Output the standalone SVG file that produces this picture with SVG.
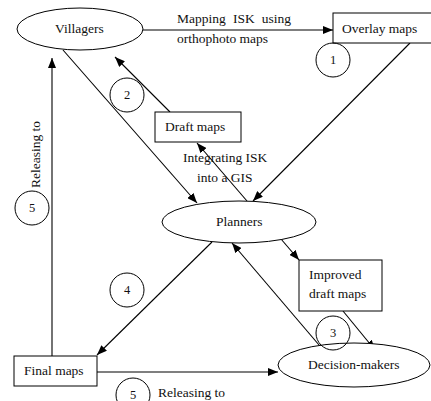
<svg xmlns="http://www.w3.org/2000/svg" width="431" height="401" viewBox="0 0 431 401" font-family="'Liberation Serif', 'Times New Roman', 'DejaVu Serif', serif">
<defs>
<marker id="ah" markerUnits="userSpaceOnUse" markerWidth="10" markerHeight="8" refX="10" refY="4" orient="auto">
<path d="M0,0 L10,4 L0,8 Z" fill="#000"/>
</marker>
<style>
text{font-family:'Liberation Serif','Times New Roman','DejaVu Serif',serif;font-size:13.5px;fill:#111}
.n{font-size:12.5px;text-anchor:middle}
.s{fill:#fff;stroke:#000;stroke-width:1}
.c{stroke:#000;stroke-width:1.1;fill:none;marker-end:url(#ah)}
.k{fill:none;stroke:#000;stroke-width:1}
</style>
</defs>
<rect width="431" height="401" fill="#fff"/>
<g id="connectors">
<line class="c" x1="143" y1="30" x2="333" y2="30"/>
<line class="c" x1="410" y1="43" x2="253" y2="201"/>
<line class="c" x1="63" y1="50" x2="197" y2="203"/>
<line class="c" x1="247" y1="201" x2="197" y2="143"/>
<line class="c" x1="170" y1="112" x2="115" y2="57"/>
<line class="c" x1="281" y1="239" x2="299" y2="260"/>
<line class="c" x1="343" y1="311" x2="375" y2="350"/>
<line class="c" x1="325" y1="352" x2="232" y2="243"/>
<line class="c" x1="212" y1="242" x2="97" y2="355"/>
<line class="c" x1="97" y1="372" x2="278" y2="372"/>
<line class="c" x1="52" y1="356" x2="52" y2="58"/>
<text x="177" y="23" word-spacing="3.8">Mapping ISK using</text>
<text x="177" y="43">orthophoto maps</text>
<text x="183" y="162">Integrating ISK</text>
<text x="197" y="182">into a GIS</text>
<text x="158" y="397">Releasing to</text>
<text transform="translate(40,188) rotate(-90)">Releasing to</text>
</g>
<g id="villagers"><ellipse class="s" cx="80" cy="29" rx="63" ry="21"/><text x="55" y="33">Villagers</text></g>
<g id="overlay"><rect class="s" x="333" y="13" width="100" height="30"/><text x="342" y="33">Overlay maps</text></g>
<g id="draft"><rect class="s" x="155" y="112" width="86" height="30"/><text x="165" y="131">Draft maps</text></g>
<g id="planners"><ellipse class="s" cx="239" cy="222" rx="77" ry="21"/><text x="216" y="226">Planners</text></g>
<g id="improved"><rect class="s" x="299" y="260" width="83" height="51"/><text x="309" y="279">Improved</text><text x="309" y="298">draft maps</text></g>
<g id="decision"><ellipse class="s" cx="354" cy="365" rx="76" ry="22"/><text x="308" y="369">Decision-makers</text></g>
<g id="final"><rect class="s" x="14" y="356" width="83" height="30"/><text x="24" y="375">Final maps</text></g>
<g id="c1"><circle class="k" cx="333" cy="60" r="17"/><text class="n" x="333" y="64">1</text></g>
<g id="c2"><circle class="k" cx="127" cy="95" r="17"/><text class="n" x="127" y="99">2</text></g>
<g id="c3"><circle class="k" cx="333" cy="333" r="17"/><text class="n" x="333" y="337">3</text></g>
<g id="c4"><circle class="k" cx="127" cy="290" r="17"/><text class="n" x="127" y="294">4</text></g>
<g id="c5a"><circle class="k" cx="32" cy="208" r="17"/><text class="n" x="32" y="212">5</text></g>
<g id="c5b"><circle class="k" cx="133" cy="395" r="17"/><text class="n" x="133" y="399">5</text></g>
</svg>
